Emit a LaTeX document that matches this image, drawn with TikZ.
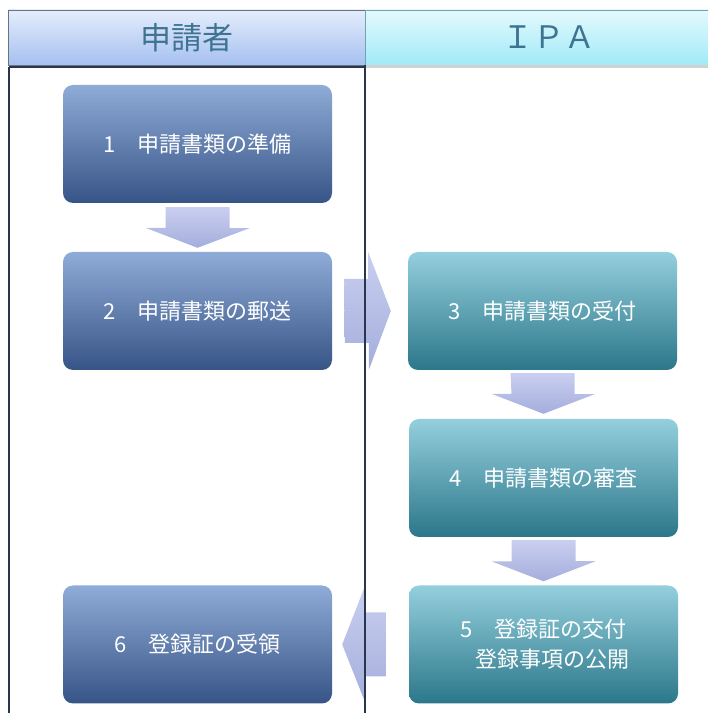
\documentclass[tikz,border=0pt]{standalone}
\usepackage{fontspec}
\setmainfont{Noto Sans CJK JP}
\usepackage{tikz}
\usetikzlibrary{calc}
\usepackage{xcolor}

\definecolor{bluetop}{RGB}{143,171,215}
\definecolor{bluemid}{RGB}{82,124,185}
\definecolor{bluebot}{RGB}{54,84,134}
\definecolor{tealtop}{RGB}{148,207,221}
\definecolor{tealmid}{RGB}{72,165,189}
\definecolor{tealbot}{RGB}{43,119,138}
\definecolor{arrtop}{RGB}{202,207,240}
\definecolor{arrbot}{RGB}{164,174,220}
\definecolor{hltop}{RGB}{228,237,252}
\definecolor{hlbot}{RGB}{166,192,240}
\definecolor{hrtop}{RGB}{229,249,253}
\definecolor{hrbot}{RGB}{160,234,248}
\definecolor{hdrtext}{RGB}{62,116,146}
\definecolor{laneline}{RGB}{40,55,78}

\begin{document}
\begin{tikzpicture}[x=1pt,y=1pt,
  stepbox/.style={rounded corners=10pt,minimum width=269pt,minimum height=118pt,
    text=white,font=\fontsize{22}{30}\selectfont,align=center},
  bluebox/.style={stepbox,top color=bluetop,middle color=bluemid,bottom color=bluebot},
  tealbox/.style={stepbox,top color=tealtop,middle color=tealmid,bottom color=tealbot},
  blockarrow/.style={top color=arrtop,bottom color=arrbot},
  hdr/.style={minimum height=55pt,text=hdrtext,font=\fontsize{31}{31}\selectfont},
  lane/.style={draw=laneline,line width=1.8pt}]
  \useasboundingbox (0,0) rectangle (708,713);

  \node[hdr,minimum width=357pt,top color=hltop,bottom color=hlbot,draw=laneline!70] (hl) at (186.5,675.5) {申請者};
  \node[hdr,minimum width=367pt,top color=hrtop,bottom color=hrbot,draw=hrbot!70!black] (hr) at (548.5,675.5) {ＩＰＡ};
  \fill[black!18] (hr.south west) rectangle ($(hr.south east)+(0,-3)$);

  \node[bluebox] (b1) at (197.5,569) {1　申請書類の準備};
  \node[bluebox] (b2) at (197.5,402) {2　申請書類の郵送};
  \node[tealbox] (b3) at (542.5,402) {3　申請書類の受付};
  \node[tealbox] (b4) at (543.5,235) {4　申請書類の審査};
  \node[tealbox] (b5) at (543.5,68.5) {5　登録証の交付\\\hspace*{18pt}登録事項の公開};
  \node[bluebox] (b6) at (197.5,68.5) {6　登録証の受領};

  \shade[blockarrow] ($(b1.south)+(-32,-4)$) -- ++(64,0) -- ++(0,-21) -- ++(20,0)
    -- ($(b2.north)+(0,4)$) -- ++(-52,20) -- ++(20,0) -- cycle;
  \shade[blockarrow] ($(b3.south)+(-32,-3)$) -- ++(64,0) -- ++(0,-21) -- ++(20,0)
    -- ($(b4.north)+(0,5)$) -- ++(-52,20) -- ++(20,0) -- cycle;
  \shade[blockarrow] ($(b4.south)+(-32,-3)$) -- ++(64,0) -- ++(0,-21) -- ++(20,0)
    -- ($(b5.north)+(0,4)$) -- ++(-52,20) -- ++(20,0) -- cycle;
  \shade[blockarrow] ($(b2.east)+(12,32)$) -- ++(24,0) -- ++(0,27)
    -- ($(b3.west)+(-17,0)$) -- ++(-22,-59) -- ++(0,27) -- ++(-24,0) -- cycle;
  \shade[blockarrow] ($(b5.west)+(-23,32)$) -- ++(-21,0) -- ++(0,26)
    -- ($(b6.east)+(10,0)$) -- ++(23,-58) -- ++(0,26) -- ++(21,0) -- cycle;

  \draw[lane] ($(hl.south west)+(1,-2)$) -- ($(hl.south east)+(0,-2)$);
  \draw[lane] ($(hl.south west)+(1,-2)$) -- ++(0,-660);
  \draw[lane] ($(hl.south east)+(0,0)$) -- ++(0,-660);
\end{tikzpicture}
\end{document}
